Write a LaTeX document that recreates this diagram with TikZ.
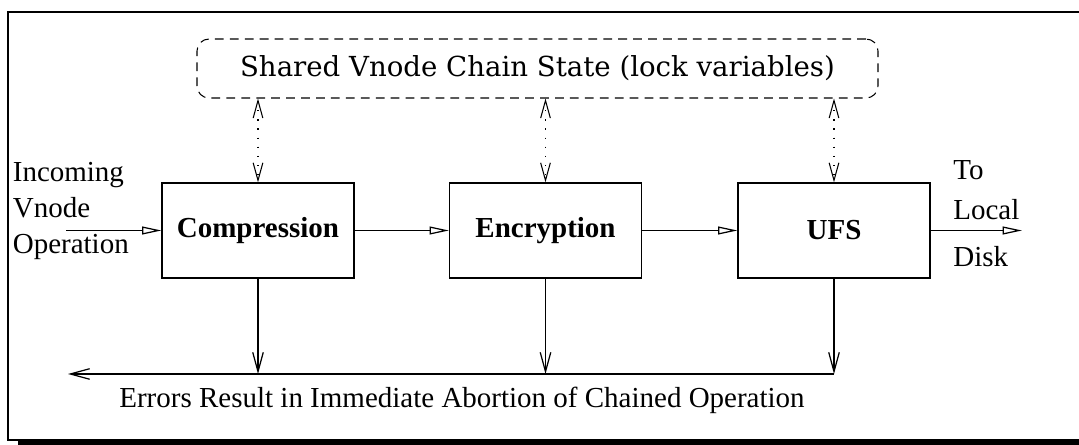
\documentclass[tikz,border=0pt]{standalone}
\usepackage{fontspec}
\setmainfont{Liberation Serif}
\newfontfamily\statefont{DejaVu Serif}
\usetikzlibrary{shapes, arrows.meta, positioning}

\begin{document}
\begin{tikzpicture}[every node/.style={font=\fontsize{16.5}{19}\selectfont},
  statebox/.style={rectangle, draw, rounded corners=0.24cm, dash pattern=on 5pt off 3.5pt, line width=0.6pt, minimum width=13.62cm, minimum height=1.18cm, font=\statefont\fontsize{15.7}{18}\selectfont},
  layer/.style={rectangle, draw, line width=0.7pt, minimum width=3.84cm, minimum height=1.9cm, font=\fontsize{16.5}{19}\selectfont\bfseries},
  lbl/.style={anchor=base west, inner sep=0pt},
  flow/.style={-{Triangle[open, length=11pt, width=4.5pt]}, line width=0.7pt},
  errflow/.style={-{Straight Barb[length=11pt, width=6pt]}, line width=0.7pt},
  lockflow/.style={{Straight Barb[length=10pt, width=5.5pt]}-{Straight Barb[length=10pt, width=5.5pt]}, line width=0.6pt, dash pattern=on 0.7pt off 4.5pt}
]
% Rahmen
\useasboundingbox (0,0) rectangle (21.58,-8.9);
\clip (0,0) rectangle (21.58,-8.9);
\fill (0.36,-8.8) rectangle (22,-9.2);
\draw[line width=1.5pt] (22,-0.24) -- (0.16,-0.24) -- (0.16,-8.8) -- (22,-8.8);
% Gemeinsamer Zustand und Schichten
\node[statebox] (state) at (10.75,-1.37) {Shared Vnode Chain State (lock variables)};
\node[layer] (comp) at (5.16,-4.61) {Compression};
\node[layer] (enc) at (10.91,-4.61) {Encryption};
\node[layer] (ufs) at (16.68,-4.61) {UFS};
% Beschriftungen
\node[lbl] (incoming) at (0.25,-3.64) {Incoming};
\node[lbl] (vnode) at (0.25,-4.36) {Vnode};
\node[lbl] (operation) at (0.25,-5.08) {Operation};
\node[lbl] (to) at (19.06,-3.60) {To};
\node[lbl] (local) at (19.06,-4.40) {Local};
\node[lbl] (disk) at (19.06,-5.34) {Disk};
\node[anchor=base] (errors) at (9.24,-8.16) {Errors Result in Immediate Abortion of Chained Operation};
\coordinate (inStart) at (1.32,-4.61);
\coordinate (outEnd) at (20.44,-4.61);
\coordinate (errTip) at (1.36,-7.48);
% Fluss
\draw[flow] (inStart) -- (comp.west);
\draw[flow] (comp.east) -- (enc.west);
\draw[flow] (enc.east) -- (ufs.west);
\draw[flow] (ufs.east) -- (outEnd);
% Sperren
\draw[lockflow] (state.south -| comp) -- (comp.north);
\draw[lockflow] (state.south -| enc) -- (enc.north);
\draw[lockflow] (state.south -| ufs) -- (ufs.north);
% Fehler
\draw[errflow] (comp.south) -- (comp.south |- errTip);
\draw[errflow] (enc.south) -- (enc.south |- errTip);
\draw[errflow] (ufs.south) -- (ufs.south |- errTip);
\draw[errflow] (ufs.south |- errTip) -- (errTip);
\end{tikzpicture}
\end{document}
